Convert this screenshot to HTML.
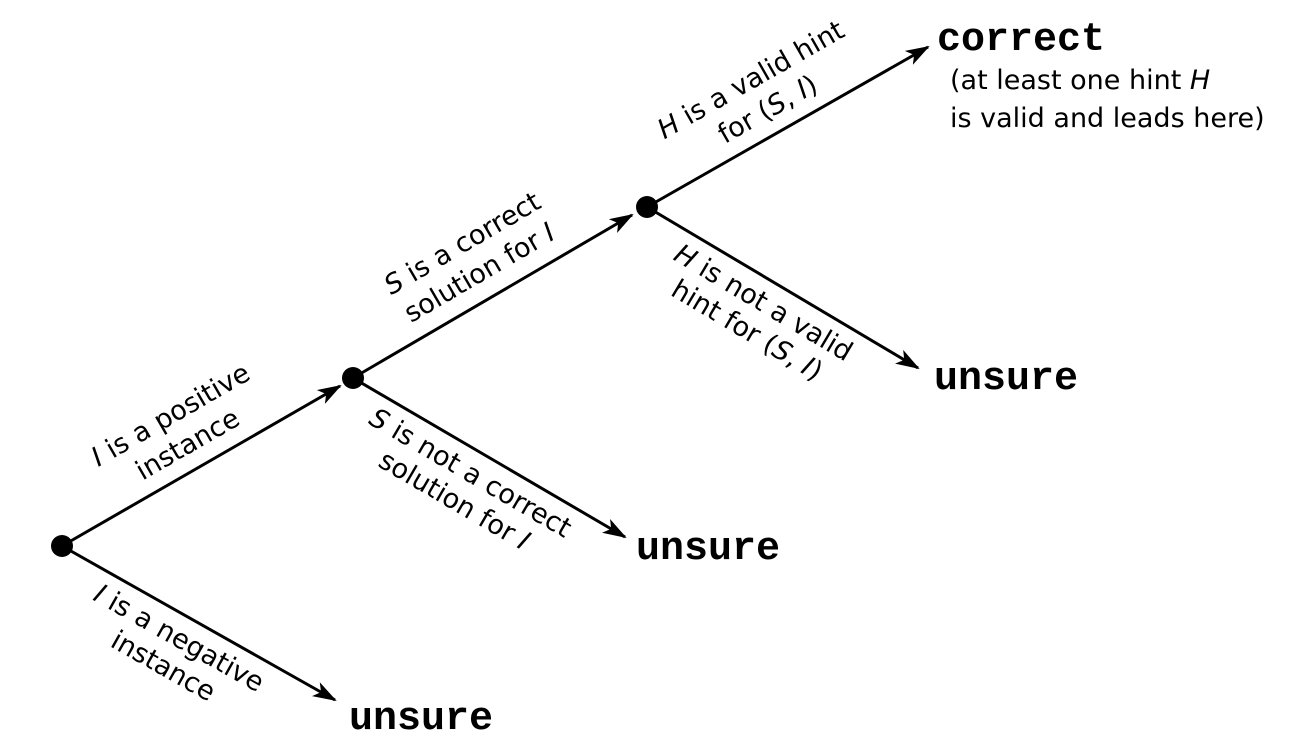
<!DOCTYPE html>
<html><head><meta charset="utf-8"><style>
html,body{margin:0;padding:0;background:#fff;}
svg{display:block;}
.l{font-family:"DejaVu Sans",sans-serif;font-size:27px;fill:#000;}
.m{font-family:"Liberation Mono",monospace;font-weight:bold;font-size:40px;fill:#000;}
</style></head><body>
<svg width="1299" height="738" viewBox="0 0 1299 738" xmlns="http://www.w3.org/2000/svg">
<defs><marker id="a" markerWidth="24" markerHeight="16" refX="22" refY="8" orient="auto" markerUnits="userSpaceOnUse" viewBox="0 0 24 16">
<path d="M0,0 L24,8 L0,16 L6,8 Z" fill="#000"/></marker></defs>
<g stroke="#000" stroke-width="3" fill="none">
<line x1="62" y1="546" x2="340" y2="386" marker-end="url(#a)"/>
<line x1="62" y1="546" x2="335" y2="700" marker-end="url(#a)"/>
<line x1="353" y1="378" x2="632" y2="215" marker-end="url(#a)"/>
<line x1="353" y1="378" x2="625" y2="537" marker-end="url(#a)"/>
<line x1="647" y1="207" x2="928" y2="47" marker-end="url(#a)"/>
<line x1="647" y1="207" x2="918" y2="368" marker-end="url(#a)"/>
</g>
<circle cx="62" cy="546" r="11"/><circle cx="353" cy="378" r="11"/><circle cx="647" cy="207" r="11"/>

<g transform="translate(207,462) rotate(-30)" class="l" text-anchor="middle">
<text x="-8" y="-50"><tspan font-style="italic">I</tspan> is a positive</text>
<text x="-8" y="-16">instance</text></g>
<g transform="translate(199,623) rotate(29.4)" class="l" text-anchor="middle">
<text x="-10" y="32"><tspan font-style="italic">I</tspan> is a negative</text>
<text x="-10" y="64">instance</text></g>
<g transform="translate(500,292) rotate(-30.3)" class="l" text-anchor="middle">
<text x="-8" y="-52"><tspan font-style="italic">S</tspan> is a correct</text>
<text x="-8" y="-18">solution for <tspan font-style="italic">I</tspan></text></g>
<g transform="translate(489,457) rotate(30.3)" class="l" text-anchor="middle">
<text x="-8" y="32"><tspan font-style="italic">S</tspan> is not a correct</text>
<text x="-8" y="64">solution for <tspan font-style="italic">I</tspan></text></g>
<g transform="translate(787,127) rotate(-29.7)" class="l" text-anchor="middle">
<text x="-8" y="-50"><tspan font-style="italic">H</tspan> is a valid hint</text>
<text x="-8" y="-16">for (<tspan font-style="italic">S</tspan>, <tspan font-style="italic">I</tspan>)</text></g>
<g transform="translate(782,287) rotate(30.7)" class="l" text-anchor="middle">
<text x="-8" y="32"><tspan font-style="italic">H</tspan> is not a valid</text>
<text x="-8" y="64">hint for (<tspan font-style="italic">S</tspan>, <tspan font-style="italic">I</tspan>)</text></g>

<text class="m" x="937" y="50">correct</text>
<text class="l" x="950" y="89">(at least one hint <tspan font-style="italic">H</tspan></text>
<text class="l" x="950" y="127">is valid and leads here)</text>
<text class="m" x="934" y="389">unsure</text>
<text class="m" x="636" y="559">unsure</text>
<text class="m" x="349" y="729">unsure</text>
</svg>
</body></html>
